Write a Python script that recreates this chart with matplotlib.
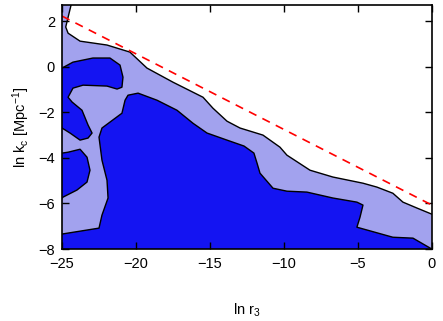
import numpy as np
import matplotlib.pyplot as plt

plt.rcParams['font.family'] = ['Liberation Sans', 'DejaVu Sans']
plt.rcParams['mathtext.default'] = 'regular'

# outer (light) contour, upper edge from top-left to right axis
outer_x = [-24.39, -24.75, -24.59, -23.78, -21.96, -20.41, -19.26, -17.50, -15.47,
           -14.80, -13.85, -12.97, -11.42, -10.27, -9.80, -8.24, -6.69, -4.66,
           -3.72, -2.64, -1.96, -1.01, 0.0]
outer_y = [2.70, 1.74, 1.47, 1.12, 0.95, 0.64, -0.06, -0.68, -1.34,
           -1.82, -2.39, -2.69, -3.00, -3.53, -3.88, -4.54, -4.84, -5.11,
           -5.28, -5.55, -5.94, -6.20, -6.47]

# main inner (dark) region
main_x = [-25.0, -22.50, -22.30, -21.89, -21.96, -22.30, -22.50, -22.30, -21.76,
          -20.95, -20.74, -20.54, -19.86, -18.58, -17.23, -16.15, -15.20, -13.85,
          -12.70, -12.03, -11.82, -11.62, -10.74, -9.80, -8.45, -6.69, -5.07,
          -4.66, -4.86, -5.07, -2.64, -1.28, 0.0, -25.0]
main_y = [-7.34, -7.08, -6.51, -5.76, -4.98, -4.10, -3.09, -2.69, -2.43,
          -2.04, -1.47, -1.25, -1.16, -1.47, -1.91, -2.48, -2.91, -3.22,
          -3.48, -3.79, -4.23, -4.67, -5.33, -5.46, -5.50, -5.76, -5.94,
          -6.07, -6.60, -7.04, -7.48, -7.52, -8.0, -8.0]

# dark island upper left
islA_x = [-25.0, -24.26, -22.91, -21.76, -21.08, -20.88, -20.95, -21.28, -21.96,
          -23.58, -24.26, -24.59, -24.32, -23.65, -23.24, -22.97, -23.24, -23.78,
          -24.46, -25.0]
islA_y = [-0.06, 0.20, 0.38, 0.38, 0.07, -0.46, -0.90, -0.98, -0.85,
          -0.81, -0.94, -1.34, -1.55, -1.91, -2.56, -2.91, -3.13, -3.22,
          -2.91, -2.69]

# dark island lower left
islB_x = [-25.0, -24.59, -23.78, -23.31, -23.11, -23.31, -23.99, -24.93, -25.0]
islB_y = [-3.79, -3.75, -3.62, -3.97, -4.54, -5.06, -5.41, -5.72, -5.76]

# red dashed line
line_x = [-25.0, 0.0]
line_y = [2.22, -6.07]

light = '#a2a2ee'
dark = '#1414f2'

fig = plt.figure(figsize=(4.43, 3.21), dpi=100)
ax = fig.add_axes([0.140, 0.224, 0.835, 0.760])

# light region: below outer edge
lx = [-25.0] + outer_x + [0.0, -25.0]
ly = [2.70] + outer_y + [-8.0, -8.0]
ax.fill(lx, ly, color=light, lw=0)
ax.plot(outer_x, outer_y, color='k', lw=1, solid_joinstyle='round')

for xs, ys in [(main_x, main_y), (islA_x, islA_y), (islB_x, islB_y)]:
    ax.fill(xs, ys, color=dark, lw=0)

ax.plot(main_x[:-1], main_y[:-1], color='k', lw=1, solid_joinstyle='round')
ax.plot(islA_x, islA_y, color='k', lw=1, solid_joinstyle='round')
ax.plot(islB_x, islB_y, color='k', lw=1, solid_joinstyle='round')

ax.plot(line_x, line_y, color='red', lw=1.2, ls=(0, (5, 4)))

ax.set_xlim(-25, 0)
ax.set_ylim(-8, 2.7)
ax.set_xticks([-25, -20, -15, -10, -5, 0])
ax.set_yticks([-8, -6, -4, -2, 0, 2])
ax.tick_params(direction='in', top=True, right=True, length=5, width=1, labelsize=10.5)
ax.tick_params(axis='x', pad=6)
ax.tick_params(axis='y', pad=5)
for s in ax.spines.values():
    s.set_linewidth(1.2)

ax.set_xlabel('ln r$_3$', fontsize=10.5, labelpad=22)
ax.set_ylabel('ln k$_c$ [Mpc$^{-1}$]', fontsize=10.5, labelpad=5)

fig.savefig('out.png', dpi=100)
